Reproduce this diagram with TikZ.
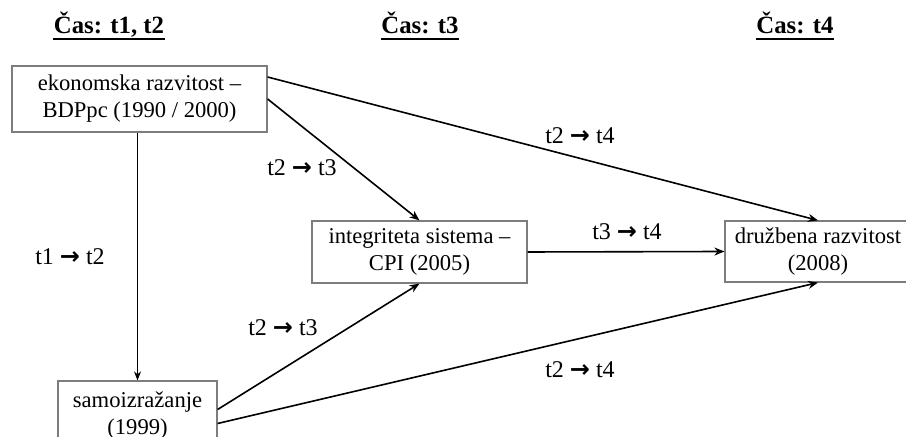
\documentclass[tikz,border=0pt]{standalone}
\usepackage{fontspec}
\setmainfont{Liberation Serif}
\newfontfamily\arrowfont{DejaVu Sans}
\usetikzlibrary{arrows.meta, positioning}
\definecolor{boxcolor}{RGB}{125,125,125}
\newcommand{\lagarrow}{{\arrowfont\bfseries →}}
\tikzstyle{var} = [rectangle, draw=boxcolor, line width=0.6pt, fill=white, align=center, inner sep=0pt, font=\fontsize{11.3}{13.5}\selectfont]
\tikzstyle{arrow} = [line width=0.8pt, -{Stealth[length=5pt,width=4pt]}]
\tikzstyle{thinarrow} = [line width=0.5pt, -{Stealth[length=4.5pt,width=3.5pt]}]
\tikzstyle{lag} = [font=\fontsize{12}{14}\selectfont, inner sep=0pt]
\tikzstyle{cas} = [font=\bfseries\fontsize{12.4}{14}\selectfont, inner sep=0pt, anchor=base]
\tikzstyle{casline} = [line width=0.8pt]

\begin{document}
\begin{tikzpicture}[x=0.5pt, y=-0.5pt]
\useasboundingbox (0,0) rectangle (906,437);

% Časovne točke
\node (cas12) [cas] at (109,34) {Čas: t1, t2};
\node (cas3) [cas] at (420,34) {Čas: t3};
\node (cas4) [cas] at (795,34) {Čas: t4};
\draw [casline] ([yshift=-2.5pt]cas12.base west) -- ([yshift=-2.5pt]cas12.base east);
\draw [casline] ([yshift=-2.5pt]cas3.base west) -- ([yshift=-2.5pt]cas3.base east);
\draw [casline] ([yshift=-2.5pt]cas4.base west) -- ([yshift=-2.5pt]cas4.base east);

% Spremenljivke
\node (ekon) [var, minimum width=127.5pt, minimum height=33pt] at (139.5,99) {ekonomska razvitost –\\BDPpc (1990 / 2000)};
\node (integ) [var, minimum width=107.5pt, minimum height=31pt] at (419.5,252) {integriteta sistema –\\CPI (2005)};
\node (druz) [var, minimum width=93pt, minimum height=30.5pt] at (818,251.5) {družbena razvitost\\(2008)};
\node (samo) [var, minimum width=79.5pt, minimum height=34.5pt] at (137.5,415.5) {samoizražanje\\(1999)};

% Povezave
\draw [thinarrow] (ekon.south -| samo.north) -- (samo.north);
\draw [arrow] ([yshift=11pt]ekon.east) -- (druz.north);
\draw [arrow] (ekon.east) -- (integ.north);
\draw [arrow] (integ.east) -- (druz.west);
\draw [arrow] ([yshift=3pt]samo.east) -- (integ.south);
\draw [arrow] ([yshift=-4pt]samo.east) -- (druz.south);

% Oznake
\node (lag12) [lag] at (70,257) {t1 \lagarrow{} t2};
\node (lag23a) [lag] at (302,168) {t2 \lagarrow{} t3};
\node (lag24a) [lag] at (580,136) {t2 \lagarrow{} t4};
\node (lag34) [lag] at (627,232) {t3 \lagarrow{} t4};
\node (lag23b) [lag] at (283,328) {t2 \lagarrow{} t3};
\node (lag24b) [lag] at (580,370) {t2 \lagarrow{} t4};

\end{tikzpicture}
\end{document}
